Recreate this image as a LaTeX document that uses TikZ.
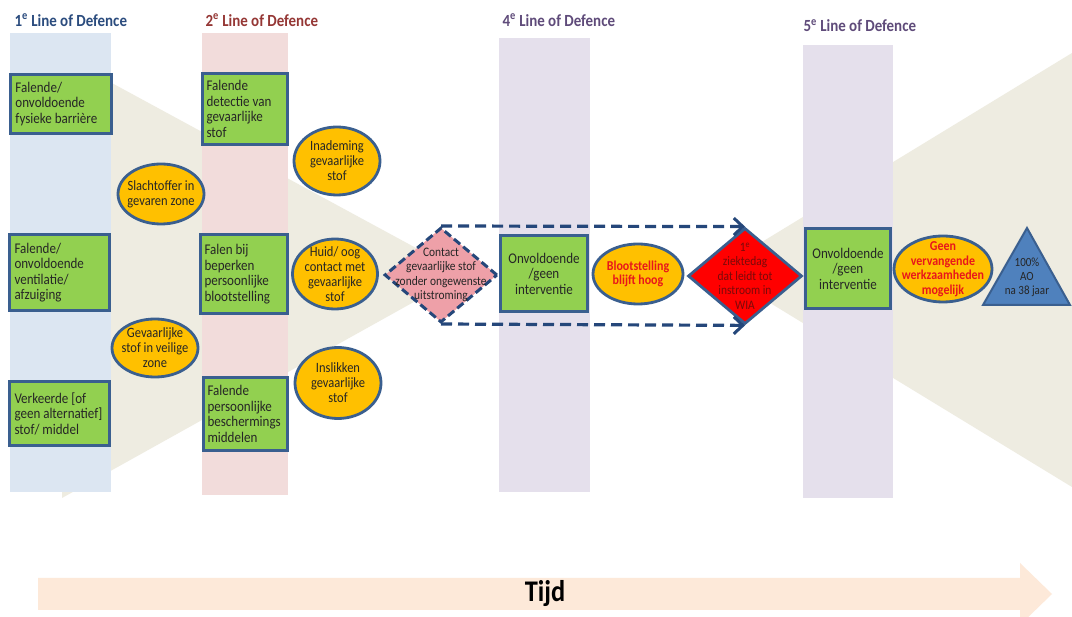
\documentclass[tikz,border=0pt]{standalone}
\usepackage{fontspec}
\setmainfont{Carlito}[FakeStretch=0.88]
\usetikzlibrary{shapes.geometric,arrows.meta}
\definecolor{beige}{HTML}{EEECE1}
\definecolor{colblue}{HTML}{DCE6F2}
\definecolor{colpink}{HTML}{F2DCDB}
\definecolor{collav}{HTML}{E5E0EC}
\definecolor{boxgreen}{HTML}{92D050}
\definecolor{bord}{HTML}{3A5F8F}
\definecolor{orng}{HTML}{FFC000}
\definecolor{pinkd}{HTML}{EEA0A8}
\definecolor{tri}{HTML}{4F81BD}
\definecolor{peach}{HTML}{FDE9D9}
\definecolor{tone}{HTML}{2B4C7E}
\definecolor{ttwo}{HTML}{953735}
\definecolor{tfour}{HTML}{5F4B7A}
\definecolor{dashc}{HTML}{25477A}
\definecolor{txt}{HTML}{262626}
\definecolor{darkred}{HTML}{7A0A0A}
\definecolor{redtxt}{HTML}{E8161B}
\begin{document}
\begin{tikzpicture}[x=1pt,y=-1pt,
  title/.style={anchor=west,font=\fontsize{17}{20}\selectfont\bfseries},
  gbox/.style={draw=bord,line width=2.8pt,fill=boxgreen,text=txt,
    inner xsep=4pt,inner ysep=2pt,font=\fontsize{14.8}{15.5}\selectfont},
  ell/.style={ellipse,draw=bord,line width=2.8pt,fill=orng,inner sep=0pt},
  etext/.style={align=center,text=txt,font=\fontsize{14.2}{15}\selectfont},
  rtext/.style={align=center,text=redtxt,font=\fontsize{13.6}{14.5}\selectfont\bfseries},
  dasharr/.style={draw=dashc,line width=3.2pt,dash pattern=on 11pt off 6pt,
    -{Straight Barb[length=9pt,width=17pt,line width=3pt]}},
]
\useasboundingbox (0,0) rectangle (1072,617);
\fill[white] (0,0) rectangle (1072,617);
% background wedges
\fill[beige] (62,56) -- (464,274) -- (62,498) -- cycle;
\fill[beige] (716,270) -- (1072,53) -- (1072,487) -- cycle;
% columns
\fill[colblue] (10,33) rectangle (111,492);
\fill[colpink] (202,33) rectangle (288,495);
\fill[collav] (499,38) rectangle (590,492);
\fill[collav] (803,45) rectangle (893,498);
% titles
\node[title,text=tone] (ti1) at (11,20) {1\textsuperscript{e} Line of Defence};
\node[title,text=ttwo] (ti2) at (202,20) {2\textsuperscript{e} Line of Defence};
\node[title,text=tfour] (ti4) at (499,20) {4\textsuperscript{e} Line of Defence};
\node[title,text=tfour] (ti5) at (800,26) {5\textsuperscript{e} Line of Defence};
% green boxes
\node[gbox,inner xsep=5pt,minimum width=101pt,minimum height=59pt,text width=91pt,align=flush left] (b1) at (61,104) {Falende/\\onvoldoende\\fysieke barrière};
\node[gbox,inner xsep=5pt,minimum width=100pt,minimum height=76pt,text width=90pt,align=flush left] (b2) at (59.5,272.5) {Falende/\\onvoldoende\\ventilatie/\\afzuiging};
\node[gbox,inner xsep=5pt,minimum width=100pt,minimum height=64pt,text width=90pt,align=flush left] (b3) at (59.5,413.5) {Verkeerde [of\\geen alternatief]\\stof/ middel};
\node[gbox,minimum width=85pt,minimum height=71pt,text width=77pt,align=flush left] (b4) at (245,109) {Falende\\detectie van\\gevaarlijke\\stof};
\node[gbox,minimum width=87pt,minimum height=79pt,text width=79pt,align=flush left] (b5) at (244,274) {Falen bij\\beperken\\persoonlijke\\blootstelling};
\node[gbox,minimum width=84pt,minimum height=73pt,text width=76pt,align=flush left] (b6) at (245.5,414) {Falende\\persoonlijke\\beschermings\\middelen};
\node[gbox,minimum width=87pt,minimum height=76pt,text width=79pt,align=flush center] (b7) at (544,273.5) {Onvoldoende\\/geen\\interventie};
\node[gbox,minimum width=85pt,minimum height=80pt,text width=77pt,align=flush center] (b8) at (848,268.5) {Onvoldoende\\/geen\\interventie};
% ellipses
\node[ell,minimum width=86pt,minimum height=60pt,label={[etext]center:{Slachtoffer in\\gevaren zone}}] (e1) at (161,194) {};
\node[ell,minimum width=86pt,minimum height=58pt,label={[etext]center:{Gevaarlijke\\stof in veilige\\zone}}] (e2) at (155,348) {};
\node[ell,minimum width=86pt,minimum height=68pt,label={[etext]center:{Inademing\\gevaarlijke\\stof}}] (e3) at (337,161) {};
\node[ell,minimum width=85pt,minimum height=70pt,label={[etext]center:{Huid/ oog\\contact met\\gevaarlijke\\stof}}] (e4) at (335,274) {};
\node[ell,minimum width=86pt,minimum height=71pt,label={[etext]center:{Inslikken\\gevaarlijke\\stof}}] (e5) at (338,383) {};
\node[ell,minimum width=90pt,minimum height=60pt,label={[rtext]center:{Blootstelling\\blijft hoog}}] (e6) at (638,274) {};
\node[ell,minimum width=98pt,minimum height=66pt,label={[rtext]center:{Geen\\vervangende\\werkzaamheden\\mogelijk}}] (e7) at (943,269) {};
% diamonds
\node[diamond,draw=dashc,line width=3pt,dash pattern=on 8pt off 4pt,fill=pinkd,
  minimum width=113pt,minimum height=95pt,inner sep=0pt,
  label={[align=center,text=txt,font=\fontsize{13}{14.5}\selectfont]center:{Contact\\gevaarlijke stof\\zonder ongewenste\\uitstroming}}] (pd) at (441,275) {};
\node[diamond,draw=bord,line width=2.8pt,fill=red,
  minimum width=114pt,minimum height=96pt,inner sep=0pt,
  label={[align=center,text=darkred,font=\fontsize{13}{14.5}\selectfont]center:{1\textsuperscript{e}\\ziektedag\\dat leidt tot\\instroom in\\WIA}}] (rd) at (745,276) {};
% triangle
\draw[draw=bord,line width=2pt,fill=tri] (1027,228) -- (983,305) -- (1070,305) -- cycle;
\node[align=center,text=txt,font=\fontsize{12.5}{14}\selectfont] (ao) at (1027,277) {100\%\\AO\\na 38 jaar};
% dashed arrows
\draw[dasharr] (pd.north) -- (rd.north);
\draw[dasharr] (pd.south) -- (rd.south);
% time arrow
\fill[peach] (38,578) -- (1020,578) -- (1020,563) -- (1052,594) -- (1020,625) -- (1020,610) -- (38,610) -- cycle;
\node[font=\fontsize{30}{32}\selectfont\bfseries,text=black] (tijd) at (545,594) {Tijd};
\end{tikzpicture}
\end{document}
